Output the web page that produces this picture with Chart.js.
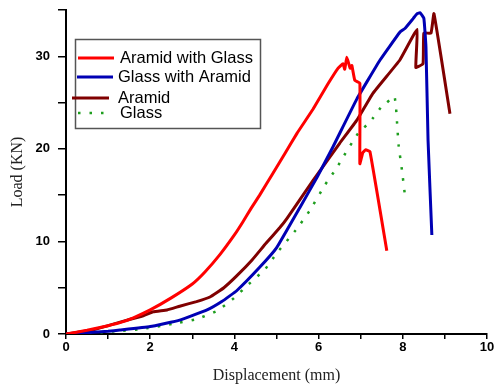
<!DOCTYPE html>
<html>
<head>
<meta charset="utf-8">
<script src="https://cdn.jsdelivr.net/npm/chart.js@4"></script>
<style>
  html, body { margin: 0; padding: 0; background: #fff; }
  #wrap { width: 495px; height: 385px; }
</style>
</head>
<body>
<div id="wrap"><canvas id="loadChart" width="495" height="385"></canvas></div>
<script>
// --- Data (displacement mm, load kN) ---
const aramidGlassX = [0, 0.5, 1.0, 1.3, 1.6, 2.0, 2.5, 3.0, 3.3, 3.66, 4.0, 4.2, 4.4, 4.6, 4.92, 5.2, 5.49, 5.87, 6.22, 6.46, 6.58, 6.62, 6.67, 6.75, 6.79, 6.86, 6.98, 6.98, 7.05, 7.12, 7.22, 7.62];
const aramidGlassY = [0, 0.4, 0.9, 1.25, 1.75, 2.6, 3.9, 5.4, 6.7, 8.6, 10.7, 12.1, 13.6, 15.0, 17.4, 19.5, 21.7, 24.3, 27.0, 28.7, 29.2, 28.6, 29.9, 28.7, 29.0, 27.4, 27.1, 18.4, 19.6, 19.9, 19.7, 9.0];

const glassAramidX = [0, 0.5, 1.0, 1.28, 2.0, 2.7, 3.35, 3.7, 4.06, 4.6, 5.0, 5.56, 5.96, 6.34, 6.91, 7.46, 7.93, 8.05, 8.25, 8.34, 8.41, 8.5, 8.55, 8.6, 8.69];
const glassAramidY = [0, 0.15, 0.3, 0.43, 0.8, 1.5, 2.6, 3.5, 4.7, 7.2, 9.3, 13.7, 16.9, 20.2, 25.4, 29.6, 32.6, 33.0, 34.1, 34.6, 34.7, 34.1, 31.0, 20.9, 10.7];

const aramidX = [0, 0.64, 1.0, 1.45, 1.8, 2.07, 2.4, 2.7, 3.1, 3.42, 3.75, 4.06, 4.42, 4.75, 5.08, 5.25, 5.87, 6.5, 6.91, 7.29, 7.93, 8.34, 8.31, 8.48, 8.5, 8.67, 8.74, 9.12];
const aramidY = [0, 0.43, 0.9, 1.5, 1.9, 2.4, 2.6, 3.0, 3.5, 4.0, 5.0, 6.3, 8.0, 9.8, 11.5, 12.5, 16.6, 20.6, 23.1, 26.0, 29.6, 32.9, 28.8, 29.2, 32.5, 32.5, 34.6, 23.8];

const glassX = [0, 0.5, 1.2, 1.76, 2.54, 3.1, 3.59, 3.97, 4.32, 4.73, 5.0, 5.49, 5.8, 6.15, 6.44, 6.58, 6.94, 7.22, 7.5, 7.62, 7.8, 7.84, 7.9, 7.98, 8.05];
const glassY = [0, 0.1, 0.3, 0.5, 1.1, 1.6, 2.5, 3.8, 5.3, 7.0, 8.7, 11.4, 13.4, 16.1, 18.0, 19.1, 21.7, 22.9, 24.6, 25.0, 25.7, 24.4, 20.4, 17.7, 15.0];

const seriesLabels = ["Aramid with Glass", "Glass with Aramid", "Aramid", "Glass"];
const xTickLabels = ["0", "2", "4", "6", "8", "10"];
const yTickLabels = ["0", "10", "20", "30"];

// --- helpers ---
function toPoints(xs, ys) {
  return xs.map((x, i) => ({ x, y: ys[i] }));
}

// --- legend drawn inside the plot, like the original ---
const insideLegend = {
  id: "insideLegend",
  afterDraw(chart) {
    const c = chart.ctx;
    c.save();
    c.strokeStyle = "#555";
    c.lineWidth = 1.5;
    c.strokeRect(75.5, 39.5, 185, 89);

    const rows = [
      { y: 58, x1: 78, x2: 114, tx: 120 },
      { y: 77, x1: 77, x2: 113, tx: 118 },
      { y: 98, x1: 72, x2: 109, tx: 118 },
      { y: 113, x1: 78, x2: 106, tx: 120 }
    ];
    c.font = "16.5px 'Liberation Sans', Arial, sans-serif";
    c.textBaseline = "middle";
    chart.data.datasets.forEach((ds, i) => {
      const r = rows[i];
      c.strokeStyle = ds.borderColor;
      c.lineWidth = ds.borderWidth;
      c.setLineDash(ds.borderDash || []);
      c.beginPath();
      c.moveTo(r.x1, r.y);
      c.lineTo(r.x2, r.y);
      c.stroke();
      c.setLineDash([]);
      c.fillStyle = "#000";
      c.fillText(ds.label, r.tx, r.y);
    });
    c.restore();
  }
};

// --- Chart.js setup ---
const ctx = document.getElementById("loadChart").getContext("2d");

const tickFont = { family: "'Liberation Sans', Arial, sans-serif", size: 13, weight: "bold" };
const titleFont = { family: "'Liberation Serif', 'Times New Roman', serif", size: 16 };

new Chart(ctx, {
  type: "line",
  data: {
    datasets: [
      {
        label: seriesLabels[0],
        data: toPoints(aramidGlassX, aramidGlassY),
        borderColor: "#ff0000",
        borderWidth: 3
      },
      {
        label: seriesLabels[1],
        data: toPoints(glassAramidX, glassAramidY),
        borderColor: "#0000b4",
        borderWidth: 3
      },
      {
        label: seriesLabels[2],
        data: toPoints(aramidX, aramidY),
        borderColor: "#800000",
        borderWidth: 3
      },
      {
        label: seriesLabels[3],
        data: toPoints(glassX, glassY),
        borderColor: "#1e9e1e",
        borderWidth: 2.5,
        borderDash: [2.5, 9]
      }
    ]
  },
  options: {
    responsive: false,
    animation: false,
    elements: {
      point: { radius: 0 },
      line: { tension: 0.1, fill: false, borderJoinStyle: "round" }
    },
    layout: { padding: { top: 10, right: 8, left: 0, bottom: 0 } },
    plugins: {
      legend: { display: false },
      tooltip: { enabled: false }
    },
    scales: {
      x: {
        type: "linear",
        min: 0,
        max: 10,
        afterFit: (scale) => {
          scale.height = 51;
          scale.paddingLeft = 0;
          scale.paddingRight = 0;
        },
        border: { color: "#000", width: 2 },
        grid: { drawOnChartArea: false, color: "#000", lineWidth: 1.5, tickLength: 5 },
        ticks: {
          stepSize: 1,
          color: "#000",
          font: tickFont,
          padding: 1,
          maxRotation: 0,
          autoSkip: false,
          callback: (v) => (v % 2 === 0 ? xTickLabels[v / 2] : "")
        },
        title: {
          display: true,
          text: "Displacement (mm)",
          color: "#222",
          font: titleFont,
          padding: { top: 1, bottom: 0 }
        }
      },
      y: {
        min: 0,
        max: 35,
        afterFit: (scale) => {
          scale.width = 66;
          scale.paddingTop = 0;
          scale.paddingBottom = 0;
        },
        border: { color: "#000", width: 2 },
        grid: { drawOnChartArea: false, color: "#000", lineWidth: 1.5, tickLength: 8 },
        ticks: {
          stepSize: 5,
          color: "#000",
          font: tickFont,
          padding: 8,
          autoSkip: false,
          callback: (v) => (v % 10 === 0 ? yTickLabels[v / 10] : "")
        },
        title: {
          display: true,
          text: "Load (KN)",
          color: "#222",
          font: titleFont,
          padding: { top: 8, bottom: 0 }
        }
      }
    }
  },
  plugins: [insideLegend]
});
</script>
</body>
</html>
